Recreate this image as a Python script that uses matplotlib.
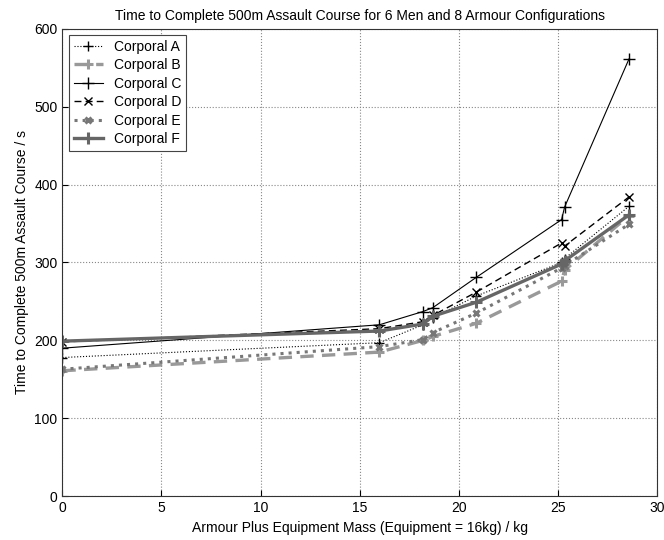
import matplotlib
matplotlib.use("Agg")
import matplotlib.pyplot as plt

plt.rcParams['font.family'] = ['Liberation Sans', 'DejaVu Sans']

# armour plus equipment mass (kg)
mass = [0, 16.0, 18.2, 18.7, 20.9, 25.2, 25.35, 28.6]

corp_a = [178, 197, 220, 229, 257, 300, 305, 372]
corp_b = [161, 185, 200, 205, 222, 276, 290, 360]
corp_c = [190, 220, 237, 242, 281, 355, 371, 561]
corp_d = [198, 215, 224, 232, 262, 325, 321, 384]
corp_e = [163, 192, 201, 210, 235, 293, 296, 349]
corp_f = [199, 212, 221, 231, 249, 298, 302, 361]

fig = plt.figure(figsize=(6.64, 5.4), dpi=100)
ax = fig.add_axes([0.094, 0.081, 0.895, 0.866])

ax.plot(mass, corp_a, color='black', linestyle=':', linewidth=0.8, marker='+', markersize=7, label='Corporal A')
ax.plot(mass, corp_b, color='#999999', linestyle=(0, (4, 2.5)), linewidth=2.4, marker='+', markersize=7, markeredgewidth=2.2, label='Corporal B')
ax.plot(mass, corp_c, color='black', linestyle='-', linewidth=0.8, marker='+', markersize=9, label='Corporal C')
ax.plot(mass, corp_d, color='black', linestyle=(0, (5, 3)), linewidth=1.0, marker='x', markersize=6, label='Corporal D')
ax.plot(mass, corp_e, color='#777777', linestyle=':', linewidth=2.2, marker='x', markersize=5, markeredgewidth=2.2, label='Corporal E')
ax.plot(mass, corp_f, color='#666666', linestyle='-', linewidth=2.4, marker='+', markersize=8, markeredgewidth=2.2, label='Corporal F')

ax.set_xlim(0, 30)
ax.set_ylim(0, 600)
ax.set_xticks(range(0, 31, 5))
ax.set_yticks(range(0, 601, 100))
ax.grid(True, linestyle=':', color='#888888', linewidth=0.8)
ax.tick_params(direction='in', labelsize=10, length=4)
for s in ax.spines.values():
    s.set_color('#333333')

ax.set_title('Time to Complete 500m Assault Course for 6 Men and 8 Armour Configurations', fontsize=10)
ax.set_xlabel('Armour Plus Equipment Mass (Equipment = 16kg) / kg', fontsize=10)
ax.set_ylabel('Time to Complete 500m Assault Course / s', fontsize=10)

leg = ax.legend(loc='upper left', fontsize=10, fancybox=False, framealpha=1,
                edgecolor='#444444', handlelength=2.1, borderaxespad=0.45,
                labelspacing=0.32, borderpad=0.35)
leg.get_frame().set_linewidth(0.8)

plt.savefig('out.png', dpi=100)
